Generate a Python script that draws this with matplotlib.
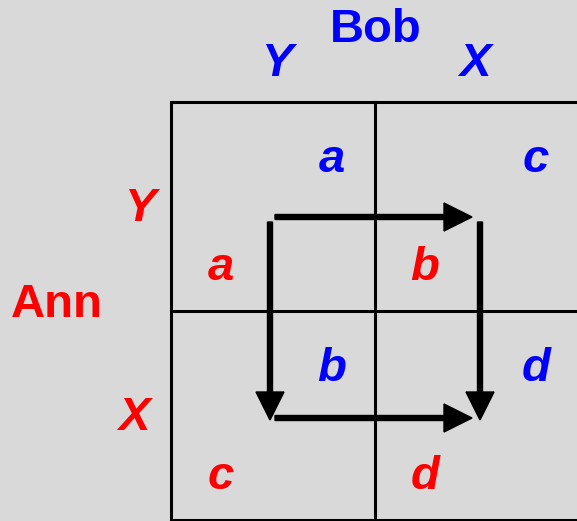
import matplotlib.pyplot as plt
from matplotlib.patches import FancyArrow

# players and strategies
row_player = "Ann"
col_player = "Bob"
row_strats = ["Y", "X"]
col_strats = ["Y", "X"]

# payoffs per cell: (Ann's payoff, Bob's payoff)
ann_payoffs = [["a", "b"], ["c", "d"]]
bob_payoffs = [["a", "c"], ["b", "d"]]

# best-response arrows between cells: (from_row, from_col, to_row, to_col)
moves = [(0, 0, 0, 1), (0, 0, 1, 0), (0, 1, 1, 1), (1, 0, 1, 1)]

BG = "#d9d9d9"
RED = "#ff0000"
BLUE = "#0000ff"
plt.rcParams['font.family'] = ['Liberation Sans', 'DejaVu Sans']
plt.rcParams['font.weight'] = 'bold'

fig = plt.figure(figsize=(5.77, 5.21), dpi=100, facecolor=BG)
ax = fig.add_axes([0, 0, 1, 1])
ax.set_facecolor(BG)
ax.set_xlim(0, 577)
ax.set_ylim(521, 0)
ax.axis("off")

# grid geometry (pixels)
x0, cw = 171, 204
y0, ch = 102, 209

for i in range(3):
    ax.plot([x0, x0 + 2.1 * cw], [y0 + i * ch, y0 + i * ch], color="black", lw=2.2, solid_capstyle="projecting")
    ax.plot([x0 + i * cw, x0 + i * cw], [y0, y0 + 2 * ch], color="black", lw=2.2, solid_capstyle="projecting")

# labels
ax.text(x0 + cw + 1, 30, col_player, color=BLUE, fontsize=34, ha="center", va="center")
ax.text(57, 305, row_player, color=RED, fontsize=34, ha="center", va="center")
col_dx = [106, 100]
for j, s in enumerate(col_strats):
    ax.text(x0 + cw * j + col_dx[j], 64, s, color=BLUE, fontsize=34, style="italic", ha="center", va="center")
row_x = [140, 134]
for i, s in enumerate(row_strats):
    ax.text(row_x[i], y0 + ch * i + 107, s, color=RED, fontsize=34, style="italic", ha="center", va="center")

# payoffs
for i in range(2):
    for j in range(2):
        cx = x0 + cw * j
        cy = y0 + ch * i
        ax.text(cx + 161, cy + 58, bob_payoffs[i][j], color=BLUE, fontsize=34,
                style="italic", ha="center", va="center")
        ax.text(cx + 50, cy + 166, ann_payoffs[i][j], color=RED, fontsize=34,
                style="italic", ha="center", va="center")

# arrows: corners of the inner square
ax_left, ax_right = 272, 480
ay_top, ay_bot = 217, 418
px = [ax_left, ax_right]
py = [ay_top, ay_bot]
for r0, c0, r1, c1 in moves:
    if r0 == r1:
        y = py[r0]
        xs, xe = px[c0] + 3, px[c1] - 8
        ax.add_patch(FancyArrow(xs, y, xe - xs, 0, width=5, head_width=28, head_length=28,
                                length_includes_head=True, color="black"))
    else:
        x = px[c0] - 2 if c0 == 0 else px[c0]
        ys, ye = py[r0] + 5, py[r1] + 2
        ax.add_patch(FancyArrow(x, ys, 0, ye - ys, width=5, head_width=28, head_length=28,
                                length_includes_head=True, color="black"))

fig.savefig("out.png", dpi=100, facecolor=BG)
